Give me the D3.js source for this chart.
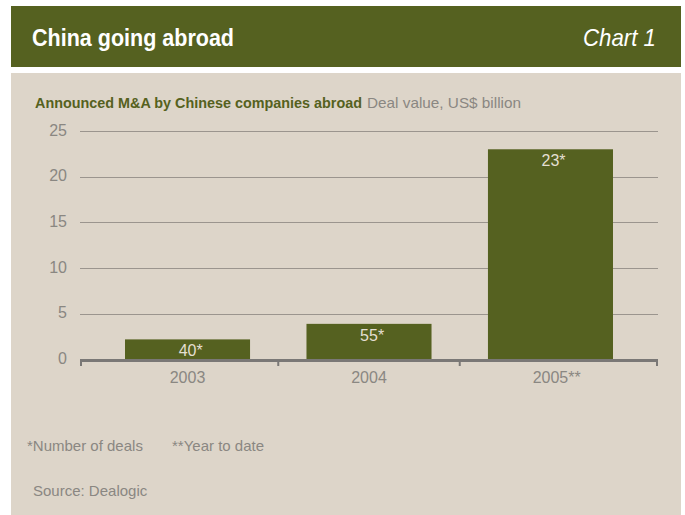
<!DOCTYPE html>
<html>
<head>
<meta charset="utf-8">
<script src="https://cdn.jsdelivr.net/npm/d3@7"></script>
<style>
  html, body { margin: 0; padding: 0; background: #ffffff; }
  svg { display: block; }
</style>
</head>
<body>
<svg id="chart" width="685" height="515"></svg>
<script>
// Announced M&A by Chinese companies abroad, deal value in US$ billion
const years = ["2003", "2004", "2005"];
const yearSuffix = ["", "", "**"];
const dealValue = [2.2, 3.9, 23.0];
const dealCount = ["40", "55", "23"];
const yTicks = [0, 5, 10, 15, 20, 25];

const title = "China going abroad";
const chartTag = "Chart 1";
const subtitleBold = "Announced M&A by Chinese companies abroad";
const subtitleRest = "Deal value, US$ billion";
const footnotes = ["*Number of deals", "**Year to date"];
const source = "Source: Dealogic";

const olive = "#556120";
const panel = "#ddd5c9";
const grey = "#8a8782";
const labelLight = "#e4dfd2";

const font = "'Liberation Sans', Arial, sans-serif";
const svg = d3.select("#chart");

// header band
svg.append("rect").attr("x", 11).attr("y", 6).attr("width", 670).attr("height", 61).attr("fill", olive);
svg.append("text").attr("x", 32).attr("y", 46)
  .attr("font-family", font).attr("font-weight", "bold").attr("font-size", 24).attr("fill", "#ffffff")
  .attr("textLength", 202).attr("lengthAdjust", "spacingAndGlyphs")
  .text(title);
svg.append("text").attr("x", 656).attr("y", 46).attr("text-anchor", "end")
  .attr("font-family", font).attr("font-style", "italic").attr("font-size", 24).attr("fill", "#ffffff")
  .attr("textLength", 73).attr("lengthAdjust", "spacingAndGlyphs")
  .text(chartTag);

// chart panel
svg.append("rect").attr("x", 11).attr("y", 73).attr("width", 670).attr("height", 442).attr("fill", panel);

svg.append("text").attr("x", 35).attr("y", 108)
  .attr("font-family", font).attr("font-size", 15).attr("font-weight", "bold").attr("fill", olive)
  .attr("textLength", 327).attr("lengthAdjust", "spacingAndGlyphs")
  .text(subtitleBold);
svg.append("text").attr("x", 367).attr("y", 108)
  .attr("font-family", font).attr("font-size", 15).attr("fill", grey)
  .attr("textLength", 154).attr("lengthAdjust", "spacingAndGlyphs")
  .text(subtitleRest);

// scales
const x0 = 80, x1 = 658;
const x = d3.scaleBand().domain(years).range([x0, x1]).paddingInner(0.311).paddingOuter(0.248);
const y = d3.scaleLinear().domain([0, 25]).range([359.5, 131]);

// gridlines
svg.append("g").selectAll("line").data(yTicks.filter(d => d > 0)).join("line")
  .attr("x1", x0).attr("x2", x1)
  .attr("y1", d => Math.round(y(d)) + 0.5).attr("y2", d => Math.round(y(d)) + 0.5)
  .attr("stroke", "#9b958e").attr("stroke-width", 1.2);

// y tick labels
svg.append("g").selectAll("text").data(yTicks).join("text")
  .attr("x", 67).attr("y", d => y(d) + 4.5)
  .attr("text-anchor", "end").attr("font-family", font).attr("font-size", 16)
  .attr("fill", grey).text(d => d);

// bars
const bars = years.map((yr, i) => ({ yr, v: dealValue[i], n: dealCount[i], suf: yearSuffix[i] }));
svg.append("g").selectAll("rect").data(bars).join("rect")
  .attr("x", d => x(d.yr)).attr("width", x.bandwidth())
  .attr("y", d => y(d.v)).attr("height", d => y(0) - y(d.v))
  .attr("fill", olive);

// deal counts inside bars: digits centred on the bar, asterisk trailing
const cnt = svg.append("g").selectAll("g").data(bars).join("g");
cnt.append("text")
  .attr("x", d => x(d.yr) + x.bandwidth() / 2).attr("y", d => y(d.v) + 17)
  .attr("text-anchor", "middle").attr("font-family", font).attr("font-size", 16)
  .attr("fill", labelLight).text(d => d.n)
  .each(function (d) { d.cw = this.getComputedTextLength(); });
cnt.append("text")
  .attr("x", d => x(d.yr) + x.bandwidth() / 2 + d.cw / 2).attr("y", d => y(d.v) + 17)
  .attr("font-family", font).attr("font-size", 16)
  .attr("fill", labelLight).text("*");

// x axis baseline and ticks
const axis = svg.append("g");
axis.append("line").attr("x1", x0).attr("x2", x1).attr("y1", 360.5).attr("y2", 360.5)
  .attr("stroke", "#7a7876").attr("stroke-width", 3);
const step = x.step();
const tickXs = [x0, x(years[0]) + x.bandwidth() + (step - x.bandwidth()) / 2,
  x(years[1]) + x.bandwidth() + (step - x.bandwidth()) / 2, x1];
axis.selectAll("line.tick").data(tickXs).join("line").attr("class", "tick")
  .attr("x1", d => d === x0 ? d + 1 : d === x1 ? d - 1 : d)
  .attr("x2", d => d === x0 ? d + 1 : d === x1 ? d - 1 : d)
  .attr("y1", 360).attr("y2", 366)
  .attr("stroke", "#7a7876").attr("stroke-width", 2);

// year labels
const yl = svg.append("g").selectAll("g").data(bars).join("g");
yl.append("text")
  .attr("x", d => x(d.yr) + x.bandwidth() / 2).attr("y", 383)
  .attr("text-anchor", "middle").attr("font-family", font).attr("font-size", 16)
  .attr("fill", grey).text(d => d.yr)
  .each(function (d) { d.yw = this.getComputedTextLength(); });
yl.append("text")
  .attr("x", d => x(d.yr) + x.bandwidth() / 2 + d.yw / 2).attr("y", 383)
  .attr("font-family", font).attr("font-size", 16)
  .attr("fill", grey).text(d => d.suf);

// footnotes and source
svg.append("text").attr("x", 27).attr("y", 451).attr("font-family", font).attr("font-size", 15)
  .attr("fill", grey).text(footnotes[0]);
svg.append("text").attr("x", 172).attr("y", 451).attr("font-family", font).attr("font-size", 15)
  .attr("fill", grey).text(footnotes[1]);
svg.append("text").attr("x", 33).attr("y", 496).attr("font-family", font).attr("font-size", 15)
  .attr("fill", grey).text(source);
</script>
</body>
</html>
